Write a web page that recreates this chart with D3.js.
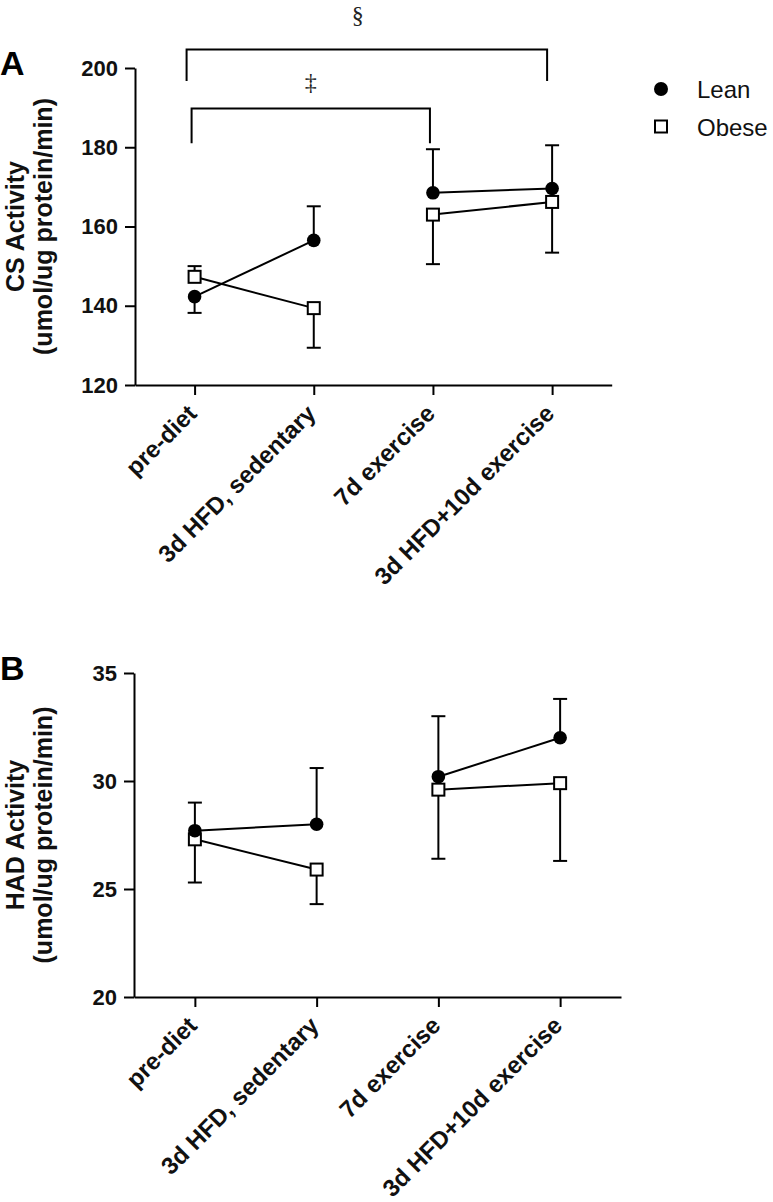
<!DOCTYPE html>
<html>
<head>
<meta charset="utf-8">
<script src="https://cdn.jsdelivr.net/npm/d3@7"></script>
<style>
  html, body { margin: 0; padding: 0; background: #fff; }
  svg { display: block; }
</style>
</head>
<body>
<svg id="chart" width="773" height="1202"></svg>
<script>
// ---- data ----
const categories = ["pre-diet", "3d HFD, sedentary", "7d exercise", "3d HFD+10d exercise"];
const lineGroups = [[0, 1], [2, 3]]; // indices of categories joined by a line
const seriesNames = ["Lean", "Obese"];

const csTicks = [120, 140, 160, 180, 200];
const csLean = [142.3, 156.5, 168.5, 169.6];
const csLeanErr = [138.2, 165.1, 179.5, 180.5];
const csObese = [147.3, 139.4, 163.0, 166.2];
const csObeseErr = [150.0, 129.4, 150.5, 153.4];

const hadTicks = [20, 25, 30, 35];
const hadLean = [27.7, 28.0, 30.2, 32.0];
const hadLeanErr = [29.0, 30.6, 33.0, 33.8];
const hadObese = [27.3, 25.9, 29.6, 29.9];
const hadObeseErr = [25.3, 24.3, 26.4, 26.3];

const csBrackets = [
  { from: "pre-diet", to: "3d HFD+10d exercise", top: 204.7, bottom: 196.7, label: "§", labelValue: 211.4 },
  { from: "pre-diet", to: "7d exercise", top: 189.8, bottom: 181.0, label: "‡", labelValue: 194.4 }
];

// ---- drawing ----
const svg = d3.select("#chart");
svg.append("rect").attr("width", 773).attr("height", 1202).attr("fill", "#fff");

const SANS = "'Liberation Sans', Arial, Helvetica, sans-serif";
const SERIF = "'Liberation Serif', 'Times New Roman', serif";

function drawPanel(cfg) {
  const x = d3.scalePoint().domain(categories).range([cfg.left, cfg.right]).padding(0.5);
  const y = d3.scaleLinear().domain([cfg.ticks[0], cfg.ticks[cfg.ticks.length - 1]]).range([cfg.bottom, cfg.top]);
  const g = svg.append("g");

  // y axis
  const ya = g.append("g").attr("transform", `translate(${cfg.left},0)`)
    .call(d3.axisLeft(y).tickValues(cfg.ticks).tickSize(10).tickSizeOuter(0).tickPadding(7));
  ya.selectAll("text").attr("font-family", SANS).attr("font-weight", "bold").attr("font-size", 22).attr("fill", "#111");

  // x axis
  const xa = g.append("g").attr("transform", `translate(0,${cfg.bottom})`)
    .call(d3.axisBottom(x).tickSize(10).tickSizeOuter(0));
  xa.selectAll("text")
    .attr("font-family", SANS).attr("font-weight", "bold").attr("font-size", 24).attr("fill", "#111")
    .attr("x", 0).attr("y", 0).attr("dy", 0)
    .attr("text-anchor", "end")
    .attr("transform", "translate(3,30) rotate(-45)");

  [ya, xa].forEach(a => {
    a.select(".domain").attr("stroke", "#000").attr("stroke-width", 2);
    a.selectAll(".tick line").attr("stroke", "#000").attr("stroke-width", 2);
  });

  // y title
  const cy = (cfg.top + cfg.bottom) / 2;
  g.append("text").attr("transform", `translate(24,${cy}) rotate(-90)`)
    .attr("text-anchor", "middle").attr("font-family", SANS).attr("font-weight", "bold")
    .attr("font-size", 25).attr("fill", "#111").text(cfg.title);
  g.append("text").attr("transform", `translate(52,${cy}) rotate(-90)`)
    .attr("text-anchor", "middle").attr("font-family", SANS).attr("font-weight", "bold")
    .attr("font-size", 25).attr("fill", "#111").text("(umol/ug protein/min)");

  // panel letter
  g.append("text").attr("x", 0).attr("y", cfg.top + 7)
    .attr("font-family", SANS).attr("font-weight", "bold").attr("font-size", 34)
    .attr("fill", "#000").text(cfg.letter);

  const line = d3.line().x(d => x(categories[d.i])).y(d => y(d.v));

  function series(vals, errs, shape) {
    const sg = g.append("g");
    lineGroups.forEach(grp => {
      sg.append("path").datum(grp.map(i => ({ i, v: vals[i] }))).attr("d", line)
        .attr("fill", "none").attr("stroke", "#000").attr("stroke-width", 2);
    });
    const eb = sg.selectAll(".err").data(vals).join("g");
    eb.append("line")
      .attr("x1", (d, i) => x(categories[i])).attr("x2", (d, i) => x(categories[i]))
      .attr("y1", d => y(d)).attr("y2", (d, i) => y(errs[i]))
      .attr("stroke", "#000").attr("stroke-width", 2);
    eb.append("line")
      .attr("x1", (d, i) => x(categories[i]) - 7).attr("x2", (d, i) => x(categories[i]) + 7)
      .attr("y1", (d, i) => y(errs[i])).attr("y2", (d, i) => y(errs[i]))
      .attr("stroke", "#000").attr("stroke-width", 2);
    if (shape === "circle") {
      sg.selectAll("circle").data(vals).join("circle")
        .attr("cx", (d, i) => x(categories[i])).attr("cy", d => y(d)).attr("r", 6.8)
        .attr("fill", "#000");
    } else {
      sg.selectAll("rect.m").data(vals).join("rect").attr("class", "m")
        .attr("x", (d, i) => x(categories[i]) - 6).attr("y", d => y(d) - 6)
        .attr("width", 12).attr("height", 12)
        .attr("fill", "#fff").attr("stroke", "#000").attr("stroke-width", 2);
    }
  }
  series(cfg.obese, cfg.obeseErr, "square");
  series(cfg.lean, cfg.leanErr, "circle");

  // brackets
  if (cfg.brackets) {
    const offs = [[-8, -5, -9], [-3, -3, 0]];
    cfg.brackets.forEach((b, k) => {
      const x1 = x(b.from) + offs[k][0], x2 = x(b.to) + offs[k][1];
      g.append("path")
        .attr("d", `M${x1},${y(b.bottom)}V${y(b.top)}H${x2}V${y(b.bottom)}`)
        .attr("fill", "none").attr("stroke", "#000").attr("stroke-width", 2);
      g.append("text").attr("x", (x1 + x2) / 2 + offs[k][2]).attr("y", y(b.labelValue))
        .attr("text-anchor", "middle").attr("font-family", SERIF).attr("font-size", 24)
        .attr("fill", "#222").text(b.label);
    });
  }
  return { x, y };
}

drawPanel({
  left: 135, right: 611.7, top: 68, bottom: 385,
  ticks: csTicks, lean: csLean, leanErr: csLeanErr, obese: csObese, obeseErr: csObeseErr,
  letter: "A", title: "CS Activity", brackets: csBrackets
});
drawPanel({
  left: 134, right: 621, top: 673, bottom: 997,
  ticks: hadTicks, lean: hadLean, leanErr: hadLeanErr, obese: hadObese, obeseErr: hadObeseErr,
  letter: "B", title: "HAD Activity"
});

// legend
const lg = svg.append("g");
seriesNames.forEach((name, i) => {
  const cy = 89 + i * 37.5;
  if (i === 0) {
    lg.append("circle").attr("cx", 661).attr("cy", cy).attr("r", 7).attr("fill", "#000");
  } else {
    lg.append("rect").attr("x", 655).attr("y", cy - 6).attr("width", 12).attr("height", 12)
      .attr("fill", "#fff").attr("stroke", "#000").attr("stroke-width", 2);
  }
  lg.append("text").attr("x", 697).attr("y", cy + 9)
    .attr("font-family", SANS).attr("font-size", 24).attr("fill", "#111").text(name);
});
</script>
</body>
</html>
